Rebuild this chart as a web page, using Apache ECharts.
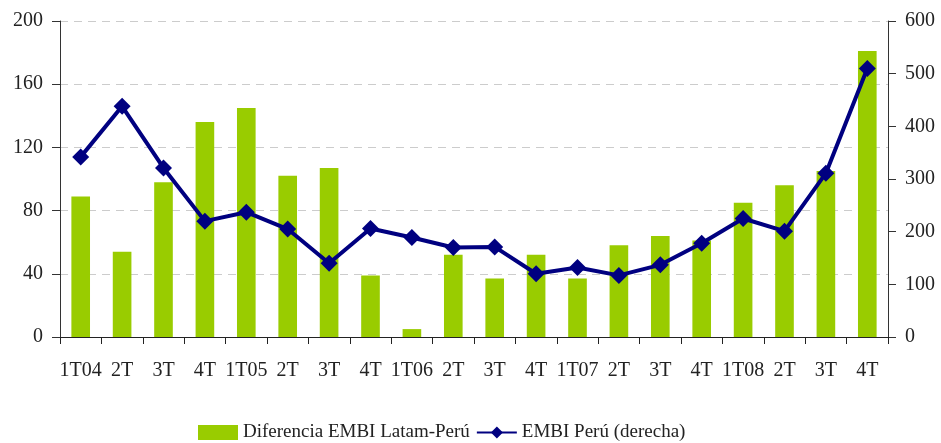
<!DOCTYPE html>
<html>
<head>
<meta charset="utf-8">
<script src="https://cdn.jsdelivr.net/npm/echarts@6/dist/echarts.min.js"></script>
<style>
  html, body { margin: 0; padding: 0; background: #fff; }
  #chart { width: 941px; height: 443px; }
</style>
</head>
<body>
<div id="chart"></div>
<script>
// trimestres
const categories = ['1T04', '2T', '3T', '4T', '1T05', '2T', '3T', '4T', '1T06', '2T',
  '3T', '4T', '1T07', '2T', '3T', '4T', '1T08', '2T', '3T', '4T'];
// Diferencia EMBI Latam-Perú (eje izquierdo)
const diferencia = [89, 54, 98, 136, 145, 102, 107, 39, 5, 52,
  37, 52, 37, 58, 64, 61, 85, 96, 105, 181];
// EMBI Perú (eje derecho)
const embiPeru = [342, 438, 321, 220, 237, 205, 140, 206, 189, 170,
  171, 120, 132, 117, 137, 178, 225, 201, 311, 510];

const font = 'Liberation Serif';
const chart = echarts.init(document.getElementById('chart'));
chart.setOption({
  animation: false,
  textStyle: { fontFamily: font },
  grid: { left: 60, right: 53, top: 21, bottom: 106 },
  legend: {
    bottom: -4,
    left: 193,
    itemGap: 6,
    itemWidth: 40,
    itemHeight: 15,
    textStyle: { fontFamily: font, fontSize: 19, color: '#222' },
    data: [
      { name: 'Diferencia EMBI Latam-Perú', icon: 'rect' },
      { name: 'EMBI Perú (derecha)' }
    ]
  },
  xAxis: {
    type: 'category',
    data: categories,
    axisLine: { lineStyle: { color: '#222', width: 1 } },
    axisTick: { show: true, length: 7, lineStyle: { color: '#222' } },
    axisLabel: { color: '#222', fontSize: 20, margin: 24, interval: 0 }
  },
  yAxis: [
    {
      type: 'value', min: 0, max: 200, interval: 40,
      axisLine: { show: true, lineStyle: { color: '#333' } },
      axisTick: { show: true, length: 8, lineStyle: { color: '#333' } },
      axisLabel: { color: '#222', fontSize: 20, margin: 17 },
      splitLine: { lineStyle: { color: '#cccccc', type: [8, 6], width: 1 } }
    },
    {
      type: 'value', min: 0, max: 600, interval: 100,
      axisLine: { show: true, lineStyle: { color: '#333' } },
      axisTick: { show: true, length: 8, lineStyle: { color: '#333' } },
      axisLabel: { color: '#222', fontSize: 20, margin: 17 },
      splitLine: { show: false }
    }
  ],
  series: [
    {
      name: 'Diferencia EMBI Latam-Perú',
      type: 'bar',
      data: diferencia,
      barWidth: '45%',
      itemStyle: { color: '#99cc00' }
    },
    {
      name: 'EMBI Perú (derecha)',
      type: 'line',
      yAxisIndex: 1,
      data: embiPeru,
      symbol: 'diamond',
      symbolSize: 17,
      lineStyle: { color: '#000080', width: 4 },
      itemStyle: { color: '#000080' }
    }
  ]
});
</script>
</body>
</html>
